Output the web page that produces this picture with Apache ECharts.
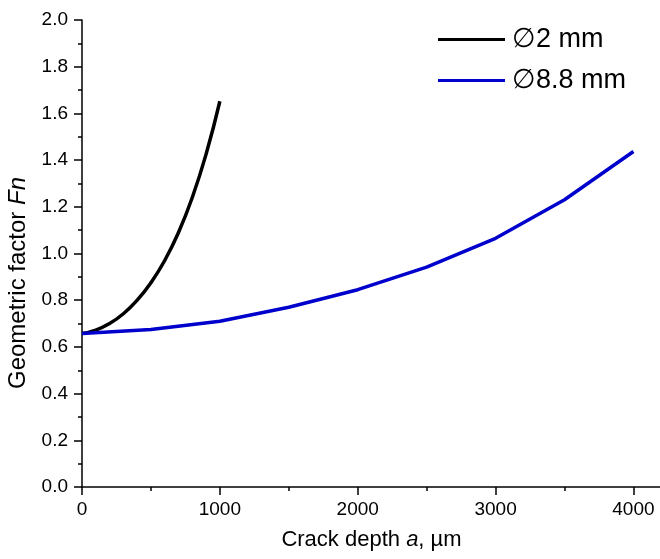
<!DOCTYPE html>
<html>
<head>
<meta charset="utf-8">
<script src="https://cdn.jsdelivr.net/npm/echarts@6/dist/echarts.min.js"></script>
<style>
  html, body { margin: 0; padding: 0; background: #fff; }
  #chart { width: 660px; height: 559px; }
</style>
</head>
<body>
<div id="chart"></div>
<script>
// crack depth (um) and geometric factor for the 2 mm specimen
const depthSmall = [0, 100, 200, 300, 400, 500, 600, 700, 800, 900, 1000]
const fnSmall = [0.657, 0.672, 0.700, 0.742, 0.800, 0.875, 0.970, 1.090, 1.240, 1.425, 1.652]

// crack depth (um) and geometric factor for the 8.8 mm specimen
const depthLarge = [0, 500, 1000, 1500, 2000, 2500, 3000, 3500, 4000]
const fnLarge = [0.657, 0.675, 0.710, 0.770, 0.845, 0.942, 1.065, 1.230, 1.437]

const seriesNames = ['\u22052 mm', '\u22058.8 mm']
const xTicks = [0, 1000, 2000, 3000, 4000]

const chart = echarts.init(document.getElementById('chart'))

const font = 'Arial, "Liberation Sans", Helvetica, sans-serif'

function pairs(xs, ys) {
  return xs.map((x, i) => [x, ys[i]])
}

const option = {
  backgroundColor: '#fff',
  animation: false,
  textStyle: { fontFamily: font },
  grid: {
    left: 82,
    right: -1,
    top: 20,
    bottom: 72,
    containLabel: false,
    outerBoundsMode: 'none'
  },
  legend: {
    orient: 'vertical',
    left: 438,
    top: 26,
    padding: 0,
    icon: 'rect',
    itemWidth: 67,
    itemHeight: 3,
    itemGap: 14,
    textStyle: { fontSize: 27, color: '#000', fontFamily: font, lineHeight: 26, padding: [0, 0, 0, 2] },
    data: seriesNames
  },
  xAxis: [
    {
      type: 'value',
      min: 0,
      max: 4200,
      interval: 1000,
      name: 'Crack depth {i|a}, \u00b5m',
      nameLocation: 'middle',
      nameGap: 42,
      nameTextStyle: {
        fontSize: 22,
        color: '#000',
        rich: { i: { fontSize: 22, fontStyle: 'italic', color: '#000' } }
      },
      axisLine: { lineStyle: { color: '#000', width: 1.5 } },
      axisTick: { show: true, length: 8, lineStyle: { color: '#000', width: 1.5 } },
      axisLabel: {
        fontSize: 19,
        color: '#000',
        margin: 13,
        formatter: v => (xTicks.indexOf(v) >= 0 ? String(v) : '')
      },
      splitLine: { show: false }
    },
    {
      // minor ticks every 500
      type: 'value',
      position: 'bottom',
      min: 0,
      max: 4200,
      interval: 500,
      axisLine: { show: false },
      axisTick: { show: true, length: 4, lineStyle: { color: '#000', width: 1.5 } },
      axisLabel: { show: false },
      splitLine: { show: false }
    }
  ],
  yAxis: {
    type: 'value',
    min: 0,
    max: 2,
    interval: 0.2,
    name: 'Geometric factor {i|Fn}',
    nameLocation: 'middle',
    nameGap: 50,
    nameTextStyle: {
      fontSize: 24,
      color: '#000',
      padding: [0, 59, 0, 0],
      rich: { i: { fontSize: 24, fontStyle: 'italic', color: '#000' } }
    },
    axisLine: { show: true, lineStyle: { color: '#000', width: 1.5 } },
    axisTick: { show: true, length: 8, lineStyle: { color: '#000', width: 1.5 } },
    minorTick: { show: true, splitNumber: 2, length: 4, lineStyle: { color: '#000', width: 1.5 } },
    axisLabel: {
      fontSize: 19,
      color: '#000',
      margin: 14,
      formatter: v => v.toFixed(1)
    },
    splitLine: { show: false }
  },
  series: [
    {
      name: seriesNames[0],
      type: 'line',
      xAxisIndex: 0,
      data: pairs(depthSmall, fnSmall),
      smooth: true,
      symbol: 'none',
      lineStyle: { color: '#000', width: 3.5 },
      itemStyle: { color: '#000' }
    },
    {
      name: seriesNames[1],
      type: 'line',
      xAxisIndex: 0,
      data: pairs(depthLarge, fnLarge),
      symbol: 'none',
      lineStyle: { color: '#0000cc', width: 3.5 },
      itemStyle: { color: '#0000cc' }
    }
  ]
}

chart.setOption(option)
</script>
</body>
</html>
